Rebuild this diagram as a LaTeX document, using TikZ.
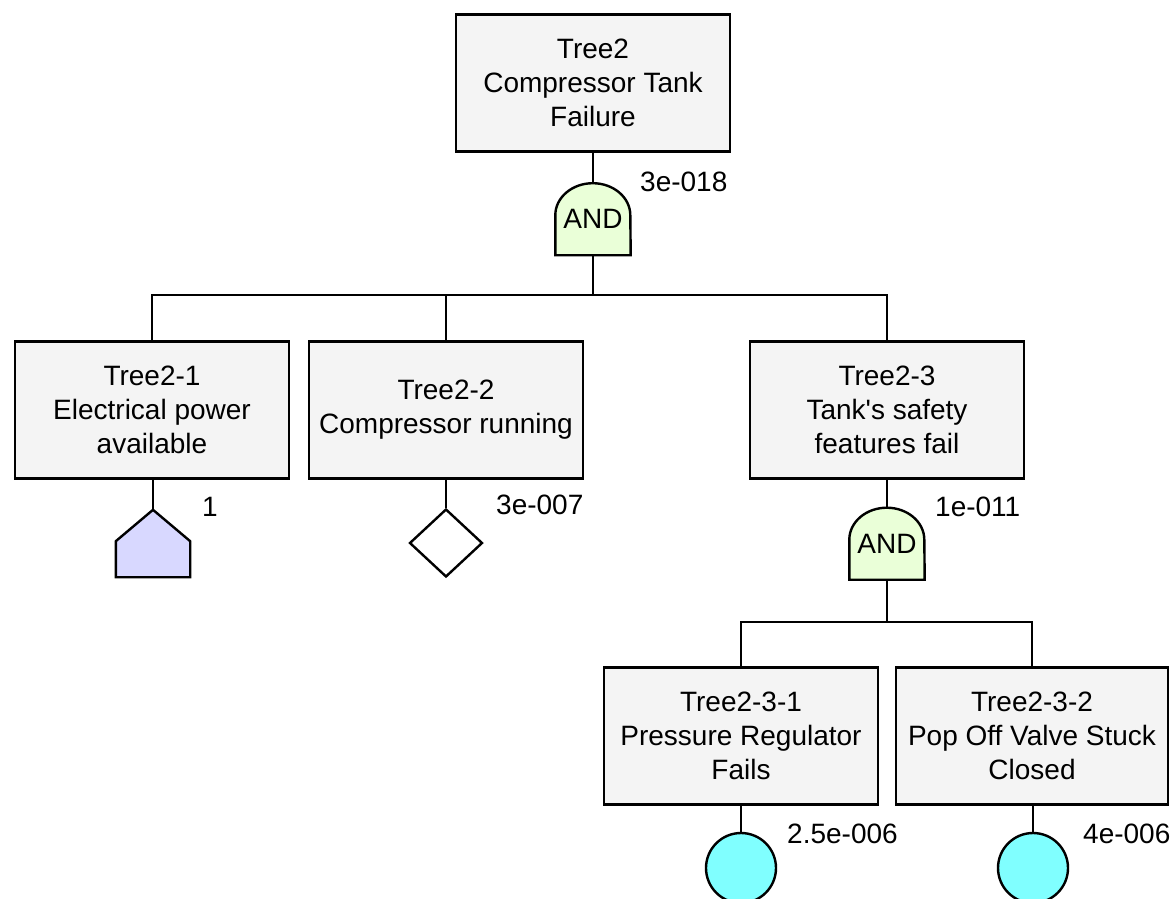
\documentclass[tikz,border=0pt]{standalone}
\usepackage{fontspec}
\setmainfont{Liberation Sans}
\usetikzlibrary{shapes.geometric,calc}
\definecolor{boxfill}{RGB}{244,244,244}
\definecolor{gatefill}{RGB}{234,255,216}
\definecolor{housefill}{RGB}{216,216,255}
\definecolor{basicfill}{RGB}{128,255,255}
\tikzset{
  every node/.style={font=\fontsize{28}{34}\selectfont},
  line/.style={line width=2.4pt, draw=black},
  eventbox/.style={line, fill=boxfill, rectangle, minimum width=274pt, minimum height=137pt,
    inner sep=0pt, align=center},
  gatebox/.style={rectangle, minimum width=75pt, minimum height=72pt, inner sep=0pt},
  gateshape/.style={line, fill=gatefill},
  housebox/.style={rectangle, minimum width=74pt, minimum height=67pt, inner sep=0pt},
  houseshape/.style={line, fill=housefill},
  undev/.style={line, fill=white, diamond, minimum width=73pt, minimum height=68pt, inner sep=0pt},
  basic/.style={line, fill=basicfill, circle, minimum size=70pt, inner sep=0pt},
  prob/.style={anchor=west, inner sep=0pt},
}
\begin{document}
\begin{tikzpicture}[x=1pt, y=-1pt]
\useasboundingbox[fill=white] (0,0) rectangle (1172,899);

% top event and its AND gate
\node[eventbox] (top) at (593,83) {Tree2\\Compressor Tank\\Failure};
\node[gatebox] (g1) at (593,219) {};
\draw[gateshape] (g1.south west) -- ++(0,-40)
  arc[start angle=180, end angle=0, x radius=37.5pt, y radius=32pt]
  -- (g1.south east) -- cycle;
\node at (g1) {AND};
\node[prob] (p1) at (640,182) {3e-018};
\draw[line] (top.south) -- (g1.north);
\coordinate (j1) at (593,295);
\draw[line] (g1.south) -- (j1);

% second level events
\node[eventbox] (b1) at (152,410) {Tree2-1\\Electrical power\\available};
\node[eventbox] (b2) at (446,410) {Tree2-2\\Compressor running};
\node[eventbox] (b3) at (887,410) {Tree2-3\\Tank\textquotesingle s safety\\features fail};
\draw[line] (j1) -| (b1.north);
\draw[line] (j1) -| (b2.north);
\draw[line] (j1) -| (b3.north);

% house event
\node[housebox] (h1) at (153,543.5) {};
\draw[houseshape] (h1.south west) -- ++(0,-36) -- (h1.north) -- ($(h1.south east)+(0,-36)$)
  -- (h1.south east) -- cycle;
\node[prob] (p2) at (202,507) {1};
\draw[line] (b1.south -| h1.north) -- (h1.north);

% undeveloped event
\node[undev] (d2) at (446,543) {};
\node[prob] (p3) at (496,505) {3e-007};
\draw[line] (b2.south) -- (d2.north);

% AND gate under Tree2-3
\node[gatebox] (g2) at (887,543.5) {};
\draw[gateshape] (g2.south west) -- ++(0,-40)
  arc[start angle=180, end angle=0, x radius=37.5pt, y radius=32pt]
  -- (g2.south east) -- cycle;
\node at (g2) {AND};
\node[prob] (p4) at (935,507) {1e-011};
\draw[line] (b3.south) -- (g2.north);
\coordinate (j2) at (887,622);
\draw[line] (g2.south) -- (j2);

% third level events
\node[eventbox] (b31) at (741,736) {Tree2-3-1\\Pressure Regulator\\Fails};
\node[eventbox, minimum width=272pt] (b32) at (1032,736) {Tree2-3-2\\Pop Off Valve Stuck\\Closed};
\draw[line] (j2) -| (b31.north);
\draw[line] (j2) -| (b32.north);

% basic events
\node[basic] (c1) at (741,868) {};
\node[prob] (p5) at (787,834) {2.5e-006};
\draw[line] (b31.south) -- (c1.north);
\node[basic] (c2) at (1033,868) {};
\node[prob] (p6) at (1083,834) {4e-006};
\draw[line] (b32.south -| c2.north) -- (c2.north);
\end{tikzpicture}
\end{document}
